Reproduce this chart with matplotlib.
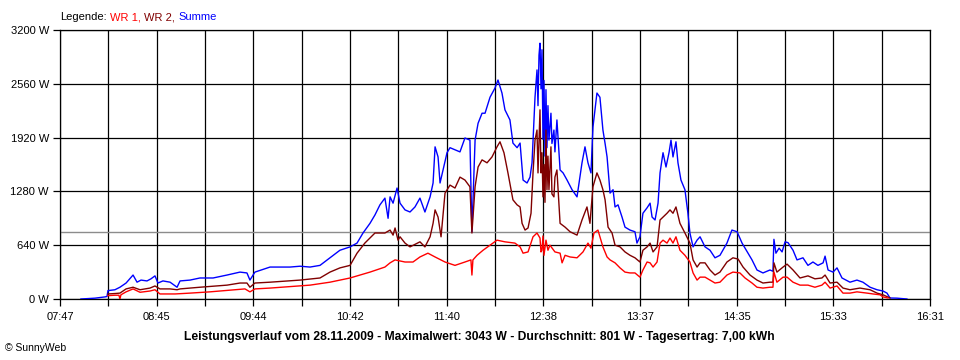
import matplotlib
matplotlib.use("Agg")
import matplotlib.pyplot as plt
import numpy as np

# ---- data (time in minutes since midnight, power in W) ----
summe_t = [479.6, 488.1, 494.1, 495.3, 495.9, 500.1, 503.1, 506.8, 511.0, 513.4, 515.8, 519.4, 521.8,
           524.2, 526.0, 529.0, 533.3, 537.5, 539.3, 545.3, 551.3, 559.2, 567.6, 575.4, 579.6, 581.4,
           584.4, 593.5, 605.5, 611.6, 617.6, 623.6, 629.6, 635.6, 641.7, 645.9, 649.5, 653.7, 656.7,
           659.7, 662.7, 664.6, 665.8, 667.6, 670.0, 671.8, 674.8, 677.8, 680.8, 683.8, 686.8, 689.9,
           691.7, 692.9, 694.7, 695.9, 697.7, 700.1, 701.9, 704.9, 707.9, 710.9, 713.9, 715.1, 717.0,
           718.8, 721.2, 723.0, 726.0, 729.0, 730.8, 733.2, 735.0, 738.0, 739.8, 742.3, 744.1, 745.9,
           748.3, 750.1, 751.3, 753.1, 754.3, 754.9, 755.5, 756.1, 756.7, 757.3, 757.9, 758.5, 759.1,
           759.7, 760.3, 760.9, 761.5, 762.7, 763.3, 764.5, 765.1, 766.3, 768.2, 770.0, 772.4, 775.4,
           778.4, 781.4, 783.2, 785.0, 786.8, 788.0, 790.4, 792.2, 794.0, 795.3, 796.5, 798.3, 800.1,
           801.3, 803.1, 805.5, 807.3, 810.3, 813.3, 814.5, 816.3, 818.1, 820.6, 822.4, 823.6, 825.4,
           827.2, 828.4, 830.2, 832.0, 833.8, 835.0, 836.2, 838.0, 839.2, 841.0, 843.4, 845.2, 846.4,
           848.3, 850.7, 852.5, 855.5, 858.5, 861.5, 864.5, 868.7, 871.7, 874.8, 877.8, 881.4, 883.8,
           886.8, 890.4, 894.6, 896.4, 897.0, 898.2, 900.1, 901.9, 903.7, 905.5, 908.5, 910.9, 914.5,
           917.5, 920.5, 923.5, 926.6, 927.8, 929.6, 932.6, 935.0, 938.0, 942.8, 947.0, 950.6, 954.9,
           959.1, 962.7, 965.1, 966.9, 971.1, 977.1]
summe_w = [0, 10, 25, 30, 100, 110, 140, 190, 285, 200, 225, 215, 240,
           275, 190, 215, 200, 140, 215, 225, 250, 250, 285, 320, 310, 225,
           320, 380, 380, 390, 380, 400, 490, 580, 620, 665, 785, 900, 1000,
           1120, 1200, 960, 1215, 1140, 1320, 1140, 1060, 1035, 1095, 1200, 1035, 1215,
           1380, 1810, 1690, 1380, 1535, 1740, 1800, 1775, 1750, 1915, 1890, 800, 1890,
           2090, 2210, 2210, 2400, 2510, 2605, 2450, 2250, 2130, 1855, 1800, 1855, 1415,
           1380, 1450, 1620, 2400, 2725, 2300, 2900, 3043, 2500, 2965, 1900, 2600, 1700,
           2490, 1800, 2300, 1890, 2210, 1850, 2010, 1750, 2130, 1535, 1500, 1415, 1300,
           1215, 1620, 1810, 1620, 1500, 2045, 2450, 2400, 2010, 1850, 1690, 1260, 1300,
           1095, 1120, 975, 855, 820, 800, 665, 740, 1020, 1085, 1140, 975, 940,
           1140, 1500, 1740, 1570, 1740, 1890, 1690, 1870, 1620, 1415, 1300, 1020, 785,
           620, 700, 740, 620, 580, 490, 520, 665, 820, 800, 665, 545, 465,
           345, 310, 345, 330, 710, 545, 605, 560, 680, 670, 580, 465, 490,
           400, 440, 400, 430, 510, 345, 320, 370, 250, 200, 225, 200, 140,
           110, 95, 70, 12, 10, 0]

wr2_t = [495.9, 500.1, 503.1, 506.8, 511.0, 515.2, 521.2, 524.2, 527.2, 533.3, 537.5, 539.3, 551.3,
         567.6, 575.4, 579.6, 581.4, 584.4, 593.5, 611.6, 623.6, 629.6, 635.6, 641.7, 645.9, 650.6,
         656.7, 662.7, 665.8, 667.6, 668.8, 670.6, 671.8, 674.8, 677.8, 683.8, 686.8, 689.9, 691.7,
         692.9, 694.7, 696.5, 698.9, 701.9, 704.9, 707.9, 710.9, 713.9, 715.1, 717.0, 718.8, 721.2,
         724.2, 727.2, 730.2, 732.0, 734.4, 736.8, 739.8, 742.3, 744.1, 745.3, 747.1, 748.9, 750.7,
         751.9, 753.1, 754.3, 754.9, 756.1, 756.7, 757.3, 757.9, 758.5, 759.1, 759.7, 760.3, 760.9,
         761.5, 762.7, 763.3, 764.5, 765.1, 766.3, 768.2, 771.2, 774.2, 778.4, 781.4, 784.4, 786.2,
         788.0, 790.4, 792.2, 794.0, 795.3, 797.1, 799.5, 801.3, 804.3, 807.3, 810.3, 813.3, 816.3,
         818.1, 820.6, 822.4, 824.2, 826.6, 828.4, 830.2, 832.6, 834.4, 836.2, 838.0, 840.4, 843.4,
         846.4, 848.3, 850.7, 852.5, 855.5, 858.5, 861.5, 864.5, 868.7, 872.3, 875.4, 878.4, 882.6,
         886.8, 890.4, 894.6, 896.4, 897.0, 898.8, 902.5, 904.9, 908.5, 912.7, 917.5, 921.7, 925.9,
         927.8, 930.8, 935.0, 938.6, 942.8, 948.8, 954.9, 959.1, 962.7, 966.9]
wr2_w = [60, 65, 70, 120, 140, 110, 130, 155, 120, 120, 110, 120, 140,
         165, 190, 190, 140, 190, 200, 225, 250, 320, 370, 400, 545, 665,
         785, 785, 820, 760, 845, 700, 740, 665, 620, 680, 620, 740, 900,
         1060, 975, 740, 1260, 1355, 1320, 1450, 1415, 1335, 785, 1335, 1570, 1655,
         1620, 1690, 1810, 1870, 1740, 1500, 1180, 1120, 1095, 900, 820, 845, 1020,
         1500, 1890, 2010, 1500, 2250, 1500, 1740, 1215, 1600, 1150, 2010, 1300, 1700,
         1300, 1810, 1250, 1215, 1450, 1535, 900, 855, 800, 760, 940, 1095, 900,
         1335, 1500, 1415, 1300, 1180, 855, 785, 640, 620, 560, 520, 490, 440,
         580, 620, 665, 560, 620, 940, 975, 1020, 1060, 1020, 1095, 900, 785,
         665, 465, 380, 430, 430, 345, 285, 320, 440, 490, 475, 380, 285,
         225, 190, 200, 200, 430, 320, 380, 415, 345, 250, 275, 240, 250,
         285, 190, 200, 130, 110, 130, 110, 70, 50, 12]

wr1_t = [495.9, 500.1, 502.5, 503.1, 503.7, 506.8, 511.0, 515.2, 521.2, 524.2, 527.2, 536.3, 545.3,
         557.3, 578.4, 581.4, 584.4, 593.5, 617.6, 629.6, 641.7, 653.7, 662.7, 665.8, 668.8, 674.8,
         679.6, 683.8, 688.6, 692.9, 698.9, 704.9, 710.9, 714.5, 715.1, 715.7, 718.2, 721.8, 726.0,
         730.2, 735.0, 741.0, 744.1, 745.9, 748.9, 751.9, 754.3, 756.1, 756.7, 757.3, 757.9, 758.5,
         759.7, 760.9, 762.1, 765.1, 768.2, 769.4, 771.2, 774.2, 778.4, 782.0, 785.0, 786.8, 788.6,
         791.0, 792.2, 794.0, 796.5, 798.3, 801.3, 804.3, 807.3, 810.3, 813.3, 816.3, 818.1, 820.6,
         822.4, 824.2, 826.6, 828.4, 830.2, 832.6, 834.4, 836.2, 838.0, 840.4, 843.4, 846.4, 848.3,
         850.7, 852.5, 855.5, 858.5, 861.5, 864.5, 868.7, 872.3, 876.5, 879.6, 883.8, 886.8, 890.4,
         894.6, 896.4, 897.0, 898.8, 902.5, 904.9, 908.5, 912.7, 917.5, 921.7, 925.9, 927.8, 930.8,
         935.0, 938.6, 942.8, 947.0, 953.1, 956.7, 960.9, 962.7, 965.7]
wr1_w = [40, 45, 45, 0, 50, 85, 120, 80, 95, 110, 60, 60, 70,
         85, 120, 85, 120, 130, 165, 200, 250, 320, 380, 430, 465, 440,
         440, 500, 545, 500, 440, 400, 440, 465, 285, 465, 520, 580, 640,
         700, 680, 665, 620, 545, 560, 740, 785, 725, 560, 580, 750, 520,
         700, 580, 640, 560, 545, 430, 520, 500, 490, 560, 665, 605, 785,
         820, 740, 620, 500, 465, 430, 370, 320, 310, 310, 260, 345, 440,
         430, 380, 440, 665, 700, 665, 725, 665, 740, 580, 520, 440, 310,
         225, 260, 260, 225, 190, 200, 285, 320, 310, 250, 190, 140, 130,
         140, 140, 320, 200, 260, 260, 200, 165, 165, 140, 165, 200, 130,
         155, 70, 70, 85, 70, 60, 50, 25, 12]

average_w = 801
x_tick_labels = ["07:47", "08:45", "09:44", "10:42", "11:40", "12:38", "13:37", "14:35", "15:33", "16:31"]
y_tick_values = [0, 640, 1280, 1920, 2560, 3200]
t_start, t_end = 467, 991

title = "Leistungsverlauf vom 28.11.2009 - Maximalwert: 3043 W - Durchschnitt: 801 W - Tagesertrag: 7,00 kWh"

# ---- figure ----
plt.rcParams['font.family'] = ['Liberation Sans', 'DejaVu Sans']
W, H = 960, 360
fig = plt.figure(figsize=(W / 100, H / 100), dpi=100)
ax = fig.add_axes([60 / W, 1 - 299 / H, 870 / W, 269 / H])

ax.set_xlim(t_start, t_end)
ax.set_ylim(0, 3200)

major = np.linspace(t_start, t_end, 10)
minor = (major[:-1] + major[1:]) / 2
ax.set_xticks(major)
ax.set_xticklabels(x_tick_labels, fontsize=8)
ax.set_xticks(minor, minor=True)
ax.set_yticks(y_tick_values)
ax.set_yticklabels([f"{v} W" for v in y_tick_values], fontsize=8)

ax.grid(True, which='both', axis='x', color='black', lw=0.9)
ax.grid(True, which='major', axis='y', color='black', lw=0.9)
ax.set_axisbelow(True)
ax.tick_params(axis='both', which='both', length=5, width=0.9, color='black')
ax.tick_params(axis='x', pad=4.5)
ax.tick_params(axis='y', pad=3)
for s in ax.spines.values():
    s.set_linewidth(0.9)
    s.set_color('black')

ax.axhline(average_w, color='#8c8c8c', lw=1.0, zorder=2)
ax.plot(summe_t, summe_w, color='#0000ff', lw=1.0, zorder=3)
ax.plot(wr2_t, wr2_w, color='#800000', lw=1.0, zorder=4)
ax.plot(wr1_t, wr1_w, color='#ff0000', lw=1.0, zorder=5)

# multicolour legend line
fig.canvas.draw()
r = fig.canvas.get_renderer()
x = 60 / W
y = 1 - 17 / H
space = 3.5 / W
for s, c in [("Legende:", 'black'), ("WR 1,", '#ff0000'), ("WR 2,", '#800000'), ("Summe", '#0000ff')]:
    t = fig.text(x, y, s, color=c, fontsize=8, va='center', ha='left')
    bb = t.get_window_extent(r)
    x += bb.width / W + space

fig.text(479 / W, 1 - 337 / H, title, fontsize=8.7, fontweight='bold', ha='center', va='center')
fig.text(5 / W, 1 - 348 / H, "© SunnyWeb", fontsize=7.5, ha='left', va='center')

fig.savefig("out.png", dpi=100, facecolor='white')
